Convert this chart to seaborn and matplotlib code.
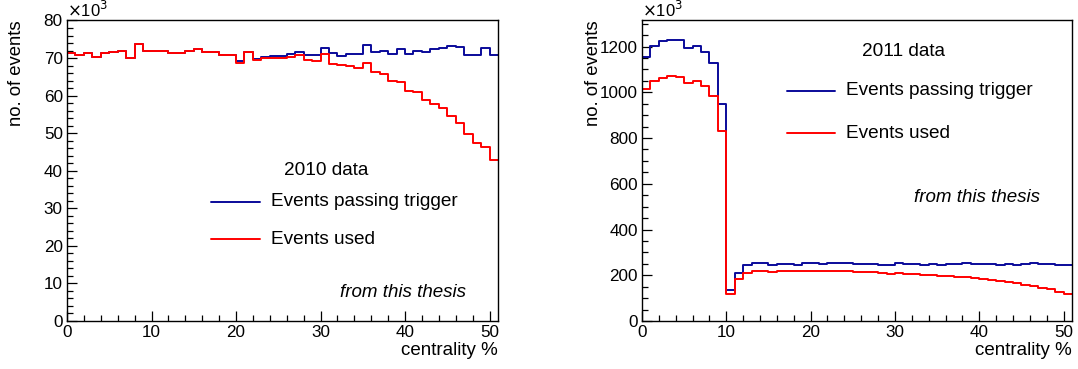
import numpy as np
import pandas as pd
import matplotlib
matplotlib.use("Agg")
import matplotlib.pyplot as plt
from matplotlib.ticker import MultipleLocator
import seaborn as sns

# ---- data (bin width 1 % centrality, bins 0..50) ----
centrality_bins = list(range(0, 51))

# 2010 data, in units of 10^3 events
trig_2010 = [71.4, 70.9, 71.3, 70.2, 71.3, 71.7, 71.9, 69.9, 73.7, 71.9,
             71.9, 71.9, 71.3, 71.3, 71.9, 72.3, 71.6, 71.5, 70.9, 70.7,
             69.2, 71.5, 69.7, 70.4, 70.5, 70.6, 71.0, 71.7, 70.9, 70.7,
             72.7, 71.3, 70.6, 71.2, 71.2, 73.4, 71.5, 71.8, 71.0, 72.4,
             71.1, 71.8, 71.5, 72.3, 72.6, 73.3, 72.9, 70.9, 70.9, 72.7,
             70.9]
used_2010 = [71.4, 70.9, 71.3, 70.2, 71.3, 71.7, 71.9, 69.9, 73.7, 71.9,
             71.9, 71.9, 71.3, 71.3, 71.9, 72.3, 71.6, 71.5, 70.9, 70.7,
             68.8, 71.5, 69.5, 70.0, 70.0, 70.0, 70.2, 70.9, 69.6, 69.2,
             71.1, 68.5, 68.1, 67.8, 67.4, 68.8, 66.2, 65.7, 63.9, 63.7,
             61.3, 60.9, 58.8, 57.8, 56.6, 54.7, 52.7, 49.8, 47.5, 46.4,
             42.9]

# 2011 data, in units of 10^3 events
trig_2011 = [1155, 1202, 1223, 1230, 1227, 1195, 1204, 1176, 1128, 950,
             137, 212, 245, 252, 252, 247, 250, 250, 247, 252,
             252, 251, 254, 254, 252, 248, 248, 251, 245, 245,
             254, 248, 248, 247, 248, 244, 248, 250, 252, 250,
             248, 248, 247, 248, 244, 250, 252, 250, 250, 247,
             244]
used_2011 = [1015, 1050, 1063, 1072, 1069, 1039, 1048, 1026, 986, 833,
             119, 185, 210, 220, 220, 216, 217, 220, 217, 220,
             220, 218, 220, 218, 220, 216, 214, 214, 209, 207,
             210, 206, 204, 201, 201, 197, 197, 194, 191, 187,
             184, 178, 175, 169, 164, 159, 153, 146, 139, 128,
             117]

BLUE = "#0a0a9a"
RED = "#ff0000"

sns.set_theme(style="white")
plt.rcParams["font.family"] = ["Liberation Sans", "DejaVu Sans"]
plt.rcParams["text.color"] = "black"
plt.rcParams["axes.labelcolor"] = "black"
plt.rcParams["xtick.color"] = "black"
plt.rcParams["ytick.color"] = "black"

fig = plt.figure(figsize=(10.78, 3.69), dpi=100)
ax1 = fig.add_axes([67 / 1078, 48 / 369, 431 / 1078, 300.5 / 369])
ax2 = fig.add_axes([642 / 1078, 48 / 369, 430 / 1078, 300.5 / 369])


def draw(ax, trig, used):
    df = pd.DataFrame({"c": np.array(centrality_bins, dtype=float) + 0.5,
                       "trig": trig, "used": used})
    sns.histplot(data=df, x="c", weights="trig", binwidth=1, binrange=(0, 51),
                 element="step", fill=False, color=BLUE, linewidth=1.4, ax=ax)
    sns.histplot(data=df, x="c", weights="used", binwidth=1, binrange=(0, 51),
                 element="step", fill=False, color=RED, linewidth=1.4, ax=ax)


draw(ax1, trig_2010, used_2010)
draw(ax2, trig_2011, used_2011)

for ax, ymax, ymaj, ymin in [(ax1, 80, 10, 2), (ax2, 1314, 200, 50)]:
    ax.set_xlim(0, 51)
    ax.set_ylim(0, ymax)
    ax.xaxis.set_major_locator(MultipleLocator(10))
    ax.xaxis.set_minor_locator(MultipleLocator(2))
    ax.yaxis.set_major_locator(MultipleLocator(ymaj))
    ax.yaxis.set_minor_locator(MultipleLocator(ymin))
    ax.tick_params(which="both", direction="in", bottom=True, left=True,
                   top=False, right=False, colors="black", labelsize=12.3)
    ax.tick_params(which="major", length=7, width=0.9)
    ax.tick_params(which="minor", length=4, width=0.9)
    ax.tick_params(axis="y", pad=3)
    ax.tick_params(axis="x", pad=3)
    for s in ax.spines.values():
        s.set_color("black")
        s.set_linewidth(1.0)
    ax.set_xlabel("centrality %", loc="right", fontsize=13.5, labelpad=1)
    ax.set_ylabel("no. of events", loc="top", fontsize=13.3)
    ax.grid(False)
    ax.text(0.0, 1.0, r"$\times$10$^3$", transform=ax.transAxes,
            fontsize=12, ha="left", va="bottom")

ax1.yaxis.set_label_coords(-0.098, 1.0)
ax2.yaxis.set_label_coords(-0.093, 1.0)

# texts / legends (left)
ax1.text(30.7, 40.0, "2010 data", fontsize=13.7, ha="center", va="center")
ax1.plot([17, 22.8], [31.7, 31.7], color=BLUE, lw=1.4)
ax1.text(24.1, 31.7, "Events passing trigger", fontsize=13.7, ha="left", va="center")
ax1.plot([17, 22.8], [21.8, 21.8], color=RED, lw=1.4)
ax1.text(24.1, 21.8, "Events used", fontsize=13.7, ha="left", va="center")
ax1.text(47.2, 7.7, "from this thesis", fontsize=13.5, style="italic",
         ha="right", va="center")

# texts / legends (right)
ax2.text(31.0, 1180, "2011 data", fontsize=13.7, ha="center", va="center")
ax2.plot([17.2, 22.9], [1006, 1006], color=BLUE, lw=1.4)
ax2.text(24.2, 1006, "Events passing trigger", fontsize=13.7, ha="left", va="center")
ax2.plot([17.2, 22.9], [822, 822], color=RED, lw=1.4)
ax2.text(24.2, 822, "Events used", fontsize=13.7, ha="left", va="center")
ax2.text(47.2, 538, "from this thesis", fontsize=13.5, style="italic",
         ha="right", va="center")

fig.savefig("out.png", dpi=100)
